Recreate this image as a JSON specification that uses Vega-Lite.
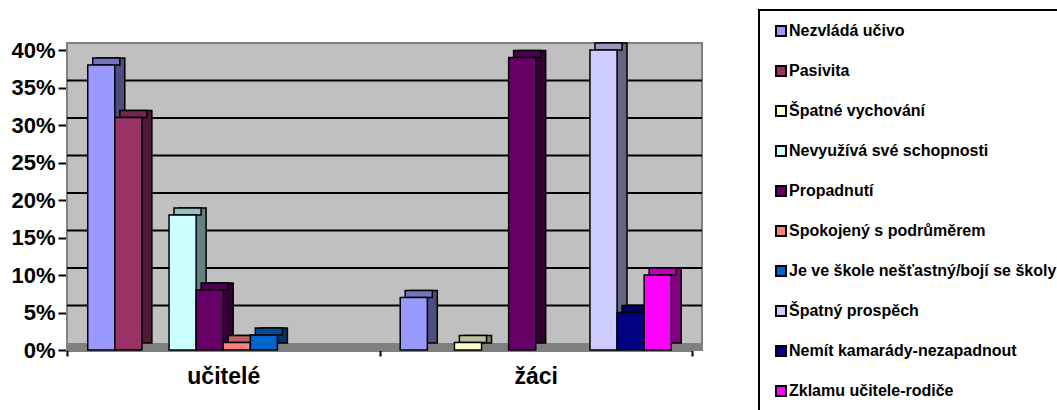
{
  "$schema": "https://vega.github.io/schema/vega-lite/v6.json",
  "width": 625,
  "height": 300,
  "autosize": {"type": "none"},
  "padding": {"left": 67, "top": 50, "right": 365, "bottom": 60},
  "background": "white",
  "config": {
    "view": {"stroke": null},
    "font": "Liberation Sans",
    "legend": {"strokeWidth": 2},
    "axisX": {"title": null, "labelAngle": 0, "labelFont": "Liberation Sans", "labelFontSize": 23, "labelFontWeight": "bold", "labelColor": "black", "labelPadding": 9, "tickBand": "extent", "tickSize": 6, "tickWidth": 2, "tickColor": "black", "domainColor": "black", "domainWidth": 2, "grid": false, "zindex": 1},
    "axisY": {"title": null, "format": ".0%", "labelFont": "Liberation Sans", "labelFontSize": 22, "labelFontWeight": "bold", "labelColor": "black", "labelPadding": 3, "tickSize": 9, "tickWidth": 2, "tickColor": "black", "domainColor": "black", "domainWidth": 2, "grid": false, "zindex": 1, "tickCount": 8}
  },
  "data": {"values": [
    {"group": "učitelé", "series": "Nezvládá učivo", "value": 0.38},
    {"group": "učitelé", "series": "Pasivita", "value": 0.31},
    {"group": "učitelé", "series": "Nevyužívá své schopnosti", "value": 0.18},
    {"group": "učitelé", "series": "Propadnutí", "value": 0.08},
    {"group": "učitelé", "series": "Spokojený s podrůměrem", "value": 0.01},
    {"group": "učitelé", "series": "Je ve škole nešťastný/bojí se školy", "value": 0.02},
    {"group": "žáci", "series": "Nezvládá učivo", "value": 0.07},
    {"group": "žáci", "series": "Špatné vychování", "value": 0.01},
    {"group": "žáci", "series": "Propadnutí", "value": 0.39},
    {"group": "žáci", "series": "Špatný prospěch", "value": 0.40},
    {"group": "žáci", "series": "Nemít kamarády-nezapadnout", "value": 0.05},
    {"group": "žáci", "series": "Zklamu učitele-rodiče", "value": 0.10}
  ]},
  "resolve": {"scale": {"color": "independent", "xOffset": "independent"}},
  "layer": [
    {
      "data": {"values": [{"part": "wall"}]},
      "mark": {"type": "rect", "fill": "#C0C0C0", "stroke": "#808080", "strokeWidth": 2, "x2Offset": 10, "y2Offset": -7},
      "encoding": {"x": {"value": 0}, "x2": {"value": "width"}, "y": {"datum": 0}, "y2": {"datum": 0.4}}
    },
    {
      "data": {"values": [{"part": "floor"}]},
      "mark": {"type": "rect", "fill": "#808080", "x2Offset": 10, "y2Offset": -7},
      "encoding": {"x": {"value": 0}, "x2": {"value": "width"}, "y": {"datum": 0}, "y2": {"datum": 0}}
    },
    {
      "data": {"values": [{"v": 0.05}, {"v": 0.1}, {"v": 0.15}, {"v": 0.2}, {"v": 0.25}, {"v": 0.3}, {"v": 0.35}]},
      "mark": {"type": "rule", "color": "black", "strokeWidth": 2, "xOffset": 10, "x2Offset": 10, "yOffset": -7},
      "encoding": {"y": {"field": "v", "type": "quantitative", "title": null}}
    },
    {
      "mark": {"type": "bar", "stroke": "black", "strokeWidth": 1.5, "yOffset": -7, "y2Offset": -7},
      "encoding": {
        "x": {"field": "group", "type": "nominal", "sort": ["učitelé", "žáci"], "scale": {"paddingInner": 0, "paddingOuter": 0}, "title": null},
        "xOffset": {"field": "series", "type": "nominal", "scale": {"domain": ["Nezvládá učivo", "Pasivita", "Špatné vychování", "Nevyužívá své schopnosti", "Propadnutí", "Spokojený s podrůměrem", "Je ve škole nešťastný/bojí se školy", "Špatný prospěch", "Nemít kamarády-nezapadnout", "Zklamu učitele-rodiče"], "paddingInner": 0, "paddingOuter": 0.765, "align": 0.74}},
        "y": {"field": "value", "type": "quantitative", "scale": {"domain": [0, 0.4]}, "title": null},
        "color": {"field": "series", "type": "nominal", "legend": null, "scale": {"domain": ["Nezvládá učivo", "Pasivita", "Špatné vychování", "Nevyužívá své schopnosti", "Propadnutí", "Spokojený s podrůměrem", "Je ve škole nešťastný/bojí se školy", "Špatný prospěch", "Nemít kamarády-nezapadnout", "Zklamu učitele-rodiče"], "range": ["#4D4D80", "#4D1A33", "#808066", "#668080", "#330033", "#804040", "#003366", "#666680", "#000040", "#800080"]}}
      }
    },
    {
      "mark": {"type": "bar", "stroke": "black", "strokeWidth": 1.5, "yOffset": -7, "y2Offset": 0},
      "encoding": {
        "x": {"field": "group", "type": "nominal", "sort": ["učitelé", "žáci"], "scale": {"paddingInner": 0, "paddingOuter": 0}, "title": null},
        "xOffset": {"field": "series", "type": "nominal", "scale": {"domain": ["Nezvládá učivo", "Pasivita", "Špatné vychování", "Nevyužívá své schopnosti", "Propadnutí", "Spokojený s podrůměrem", "Je ve škole nešťastný/bojí se školy", "Špatný prospěch", "Nemít kamarády-nezapadnout", "Zklamu učitele-rodiče"], "paddingInner": 0, "paddingOuter": 0.765, "align": 0.62}},
        "y": {"field": "value", "type": "quantitative", "scale": {"domain": [0, 0.4]}, "title": null},
        "y2": {"field": "value"},
        "color": {"field": "series", "type": "nominal", "legend": null, "scale": {"domain": ["Nezvládá učivo", "Pasivita", "Špatné vychování", "Nevyužívá své schopnosti", "Propadnutí", "Spokojený s podrůměrem", "Je ve škole nešťastný/bojí se školy", "Špatný prospěch", "Nemít kamarády-nezapadnout", "Zklamu učitele-rodiče"], "range": ["#7373BF", "#73264D", "#BFBF99", "#99BFBF", "#4D004D", "#BF6060", "#004D99", "#9999BF", "#000060", "#BF00BF"]}}
      }
    },
    {
      "mark": {"type": "bar", "stroke": "black", "strokeWidth": 1.5},
      "encoding": {
        "x": {"field": "group", "type": "nominal", "sort": ["učitelé", "žáci"], "scale": {"paddingInner": 0, "paddingOuter": 0}, "title": null},
        "xOffset": {"field": "series", "type": "nominal", "scale": {"domain": ["Nezvládá učivo", "Pasivita", "Špatné vychování", "Nevyužívá své schopnosti", "Propadnutí", "Spokojený s podrůměrem", "Je ve škole nešťastný/bojí se školy", "Špatný prospěch", "Nemít kamarády-nezapadnout", "Zklamu učitele-rodiče"], "paddingInner": 0, "paddingOuter": 0.765, "align": 0.5}},
        "y": {"field": "value", "type": "quantitative", "scale": {"domain": [0, 0.4]}, "title": null},
        "color": {"field": "series", "type": "nominal",
          "scale": {"domain": ["Nezvládá učivo", "Pasivita", "Špatné vychování", "Nevyužívá své schopnosti", "Propadnutí", "Spokojený s podrůměrem", "Je ve škole nešťastný/bojí se školy", "Špatný prospěch", "Nemít kamarády-nezapadnout", "Zklamu učitele-rodiče"], "range": ["#9999FF", "#993366", "#FFFFCC", "#CCFFFF", "#660066", "#FF8080", "#0066CC", "#CCCCFF", "#000080", "#FF00FF"]},
          "legend": {"title": null, "orient": "none", "legendX": 692, "legendY": -40, "strokeColor": "black", "padding": 13, "symbolType": "square", "symbolSize": 100, "symbolStrokeColor": "black", "symbolStrokeWidth": 2, "symbolOpacity": 1, "symbolOffset": 1, "labelFont": "Liberation Sans", "labelFontSize": 16, "labelFontWeight": "bold", "labelColor": "black", "labelLimit": 500, "labelOffset": 0, "rowPadding": 22}}
      }
    }
  ]
}
